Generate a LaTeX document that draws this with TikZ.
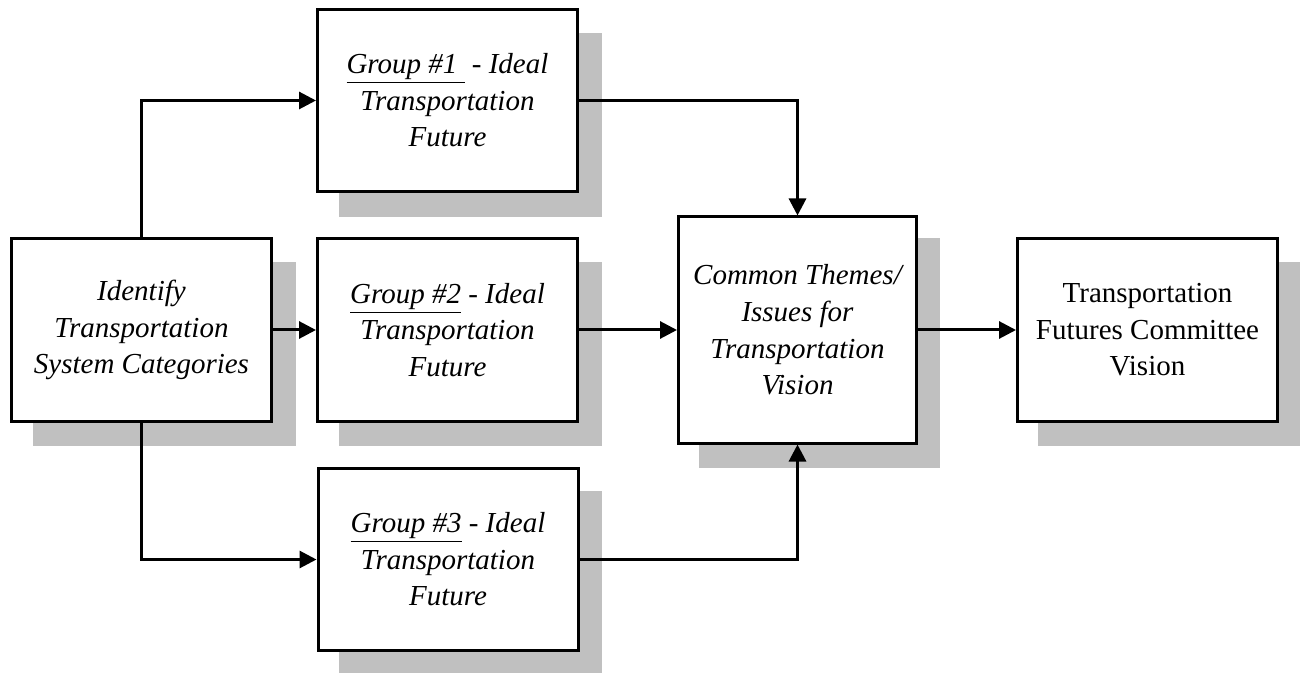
\documentclass[tikz,border=0pt]{standalone}
\usepackage{fontspec}
\setmainfont{Liberation Serif}
\usetikzlibrary{arrows.meta}
\definecolor{shadowgray}{RGB}{192,192,192}
\begin{document}
\begin{tikzpicture}[x=0.5pt,y=-0.5pt,
  stepbox/.style={draw=black, line width=1.5pt, fill=white,
    minimum width=130pt, minimum height=91pt, inner sep=2pt,
    align=center, font=\fontsize{14.5}{18.3}\selectfont},
  arr/.style={line width=1.5pt, -{Triangle[length=8.5pt,width=8.5pt]}}]
\useasboundingbox (0,0) rectangle (1300,673);

% drop shadows behind the boxes
\fill[shadowgray] (33,262) rectangle (296,446);
\fill[shadowgray] (339,33) rectangle (602,217);
\fill[shadowgray] (339,262) rectangle (602,446);
\fill[shadowgray] (339,491) rectangle (602,673);
\fill[shadowgray] (699,238) rectangle (940,468);
\fill[shadowgray] (1038,262) rectangle (1300,446);

% boxes
\node[stepbox] (id) at (141.5,330) {\itshape Identify\\ \itshape Transportation\\ \itshape System Categories};
\node[stepbox] (g1) at (447.5,100.5) {\itshape\underline{Group \#1\ } - Ideal\\ \itshape Transportation\\ \itshape Future};
\node[stepbox] (g2) at (447.5,330) {\itshape\underline{Group \#2} - Ideal\\ \itshape Transportation\\ \itshape Future};
\node[stepbox] (g3) at (448,559.5) {\itshape\underline{Group \#3} - Ideal\\ \itshape Transportation\\ \itshape Future};
\node[stepbox, minimum width=119pt, minimum height=113pt] (cm) at (797.5,330)
  {\itshape Common Themes/\\ \itshape Issues for\\ \itshape Transportation\\ \itshape Vision};
\node[stepbox] (tf) at (1147.5,330) {Transportation\\ Futures Committee\\ Vision};

% connectors
\draw[arr] (id.north) |- (g1.west);
\draw[arr] (id.east) -- (g2.west);
\draw[arr] (id.south) |- (g3.west);
\draw[arr] (g1.east) -| (cm.north);
\draw[arr] (g2.east) -- (cm.west);
\draw[arr] (g3.east) -| (cm.south);
\draw[arr] (cm.east) -- (tf.west);
\end{tikzpicture}
\end{document}
